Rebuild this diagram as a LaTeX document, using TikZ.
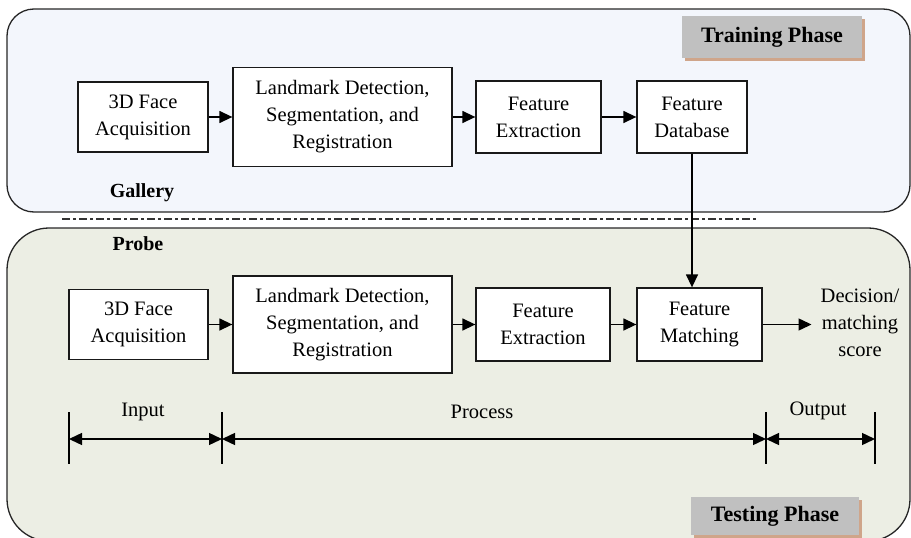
\documentclass[tikz,border=0pt]{standalone}
\usepackage{fontspec}
\setmainfont{Liberation Serif}
\usetikzlibrary{arrows.meta,shadows}
\definecolor{galleryfill}{HTML}{F3F6FC}
\definecolor{probefill}{HTML}{ECEEE4}
\definecolor{phasegrey}{HTML}{C0C0C0}
\definecolor{phaseshadow}{HTML}{CFA58A}
\begin{document}
\begin{tikzpicture}[x=1pt, y=-1pt,
    font=\fontsize{20.5pt}{27pt}\selectfont,
    blockbox/.style={draw=black!90, line width=1.3pt, fill=white, align=center, inner sep=0pt},
    phasebox/.style={fill=phasegrey, inner sep=0pt, font=\fontsize{22pt}{26pt}\selectfont\bfseries,
        drop shadow={shadow xshift=3pt, shadow yshift=-3pt, fill=phaseshadow, opacity=1}},
    tag/.style={font=\fontsize{20pt}{24pt}\selectfont\bfseries},
    arr/.style={line width=1.4pt, -{Triangle[length=13pt, width=12pt]}},
    dim/.style={line width=1.4pt, {Triangle[length=13pt, width=12pt]}-{Triangle[length=13pt, width=12pt]}}]
\useasboundingbox (0,0) rectangle (911,538);

\draw[draw=black!85, line width=1.3pt, fill=galleryfill, rounded corners=27pt] (7,9) rectangle (910,212);
\draw[draw=black!85, line width=1.3pt, fill=probefill, rounded corners=42pt] (7,228) rectangle (910,541);
\draw[black!80, line width=1.2pt, dash pattern=on 8pt off 3pt on 3pt off 3pt] (62,219)--(757,219);

\node[phasebox, minimum width=180pt, minimum height=42pt] (train) at (772,37) {Training Phase};
\node[phasebox, minimum width=168pt, minimum height=38pt] (test) at (775,516) {Testing Phase};
\node[tag] (gallery) at (142,193) {Gallery};
\node[tag] (probe) at (138,244) {Probe};

\node[blockbox, minimum width=130pt, minimum height=70pt] (tacq) at (143,117) {3D Face\\Acquisition};
\node[blockbox, minimum width=219pt, minimum height=99pt] (tland) at (342.5,117) {Landmark Detection,\\Segmentation, and\\Registration};
\node[blockbox, minimum width=125pt, minimum height=72pt] (text) at (538.5,117) {Feature\\Extraction};
\node[blockbox, minimum width=110pt, minimum height=72pt] (tdb) at (692,117) {Feature\\Database};

\node[blockbox, minimum width=139pt, minimum height=70pt] (pacq) at (138.5,324.5) {3D Face\\Acquisition};
\node[blockbox, minimum width=219pt, minimum height=97pt] (pland) at (342.5,324.5) {Landmark Detection,\\Segmentation, and\\Registration};
\node[blockbox, minimum width=134pt, minimum height=73pt] (pext) at (543,324.5) {Feature\\Extraction};
\node[blockbox, minimum width=125pt, minimum height=73pt] (pmatch) at (699.5,324.5) {Feature\\Matching};
\node[align=center, inner xsep=9pt, inner ysep=0pt] (dec) at (860,323) {Decision/\\matching\\score};

\foreach \a/\b in {tacq/tland,tland/text,text/tdb,pacq/pland,pland/pext,pext/pmatch}
{
    \draw[arr] (\a)--(\b);
}
\draw[arr] (tdb.south)--(tdb.south |- pmatch.north);
\draw[arr] (pmatch.east)--(pmatch.east -| dec.west);

\foreach \x/\name in {69/d1,222/d2,766/d3,875/d4}
{
    \draw[line width=1.3pt] (\x,412)--(\x,464);
    \coordinate (\name) at (\x,439);
}
\foreach \a/\b in {d1/d2,d2/d3,d3/d4}
{
    \draw[dim] (\a)--(\b);
}
\node (input) at (143,412) {Input};
\node (process) at (482,412) {Process};
\node (output) at (818,411) {Output};
\end{tikzpicture}
\end{document}
